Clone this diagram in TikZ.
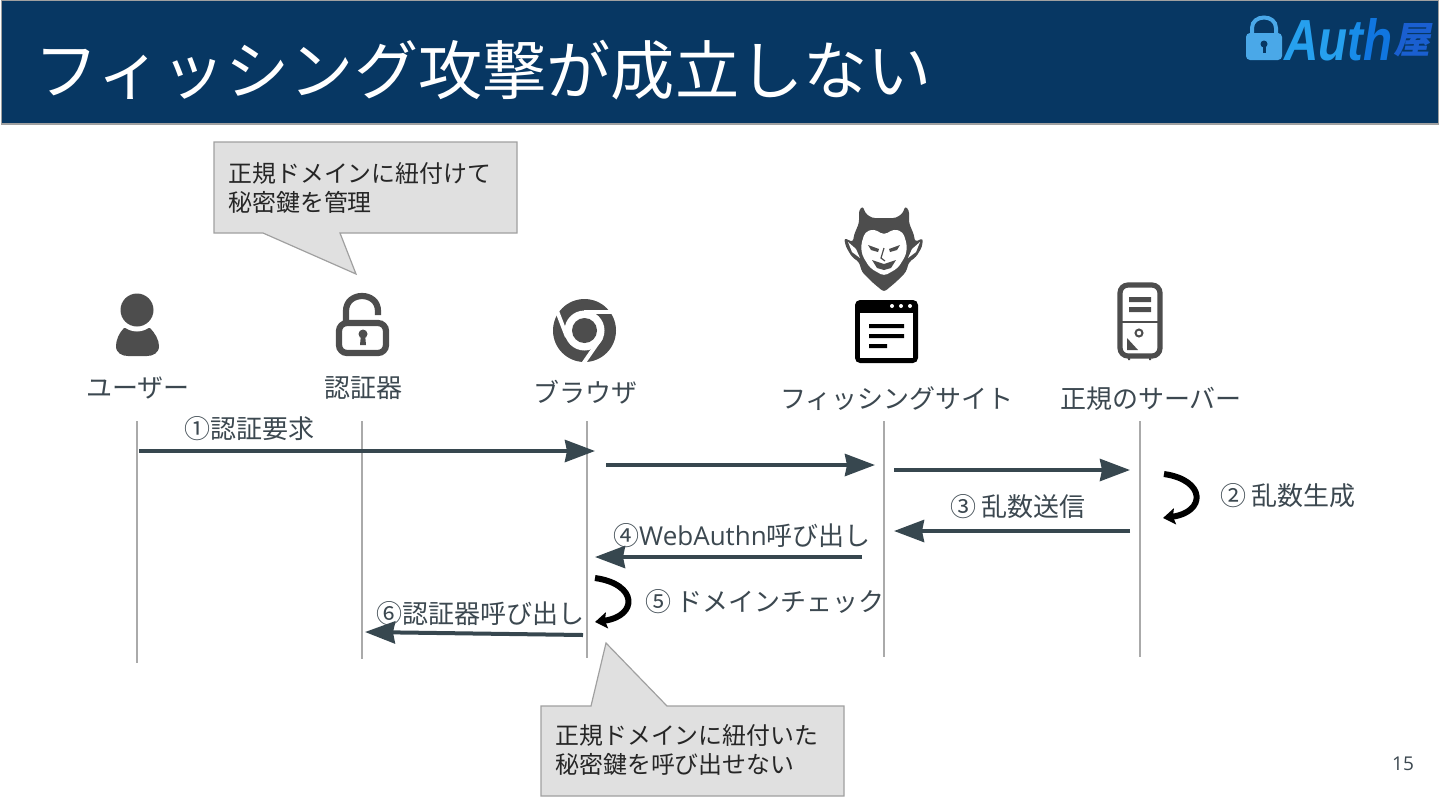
\documentclass[tikz,border=0pt]{standalone}
\usepackage{fontspec}
\setmainfont{Noto Sans CJK JP}
\newfontfamily\latinfont{Open Sans}
\newfontfamily\logofont{Liberation Sans}
\newfontfamily\logocjk[FakeSlant=0.2]{Noto Sans CJK JP}
\usetikzlibrary{arrows.meta,calc}
\definecolor{headblue}{RGB}{7,55,99}
\definecolor{slatetext}{RGB}{60,72,80}
\definecolor{arrowslate}{RGB}{55,71,79}
\definecolor{icongray}{RGB}{77,77,77}
\definecolor{lifegray}{RGB}{170,170,170}
\definecolor{notefill}{RGB}{224,224,224}
\definecolor{noteline}{RGB}{160,160,160}
\definecolor{logolock}{RGB}{74,168,232}
\begin{document}
\begin{tikzpicture}[x=0.5pt,y=-0.5pt,
    lifeline/.style={draw=lifegray,line width=0.8pt},
    msg/.style={draw=arrowslate,line width=2pt,-{Stealth[length=15pt,width=11pt,inset=1pt]}},
    selfloop/.style={draw=black,line width=3pt,-{Stealth[length=6pt,width=8pt,inset=1pt]}},
    lbl/.style={text=slatetext,inner sep=0pt,font=\fontsize{13}{15}\selectfont},
    notetxt/.style={text=black!85,inner sep=0pt,anchor=west,align=left,font=\fontsize{11.95}{14.5}\selectfont},
    notebox/.style={fill=notefill,draw=noteline,line width=0.6pt}]
    \useasboundingbox (0,0) rectangle (1440,810);
    % header
    \fill[headblue,draw=noteline,line width=0.6pt] (1.5,0.5) rectangle (1438.5,124);
    \node[anchor=west,inner sep=0pt,text=white,font=\fontsize{32.1}{36}\selectfont] (title) at (34,70) {フィッシング攻撃が成立しない};
    % logo
    \fill[logolock,rounded corners=2pt] (1246,33) rectangle (1282,60);
    \draw[logolock,line width=2pt] (1252,34) -- (1252,28) .. controls (1252,14) and (1276,14) .. (1276,28) -- (1276,34);
    \fill[headblue] (1264,44) circle (3.5);
    \fill[headblue] (1262.5,45) rectangle (1265.5,53);
    \node[anchor=west,inner sep=0pt,font=\logofont\bfseries\itshape\fontsize{29}{29}\selectfont] (logoauth) at (1284,40) {\scalebox{.82}[1]{\textcolor[RGB]{38,160,238}{Au}\textcolor[RGB]{24,140,232}{t}\textcolor[RGB]{16,118,224}{h}}};
    \node[anchor=west,inner sep=0pt,text={rgb,255:red,26;green,95;blue,208},font=\logocjk\bfseries\fontsize{18.5}{20}\selectfont] (logoya) at (1393,40) {屋};
    % callouts
    \path[notebox] (214,142) -- (517,142) -- (517,233) -- (340,233) -- (356,274) -- (263,233) -- (214,233) -- cycle;
    \node[notetxt] (notekey) at (228,188) {正規ドメインに紐付けて\\秘密鍵を管理};
    \path[notebox] (541,706) -- (591,706) -- (606,643) -- (667,706) -- (844,706) -- (844,796) -- (541,796) -- cycle;
    \node[notetxt] (notecall) at (555,750) {正規ドメインに紐付いた\\秘密鍵を呼び出せない};
    % user icon
    \fill[icongray] (116,346) .. controls (116,340) and (119,333) .. (124,328) -- (150,328) .. controls (155,333) and (159,340) .. (159,346) .. controls (159,353) and (153,356) .. (147,356) -- (128,356) .. controls (122,356) and (116,353) .. cycle;
    \fill[white] (137,311) circle (20.5);
    \fill[icongray] (137,310) circle (16.5);
    % lock icon
    \draw[icongray,line width=3.1pt,rounded corners=4pt] (339,323) rectangle (386,353);
    \draw[icongray,line width=3.1pt] (346,322) -- (346,311) .. controls (346,291) and (378,291) .. (378,311) -- (378,315);
    \fill[icongray] (363,334) circle (4.5);
    \fill[icongray] (361,334) -- (365,334) -- (366,345) -- (360,345) -- cycle;
    % browser icon
    \fill[icongray] (584.5,330.5) circle (31.5);
    \fill[white] (584.5,330.5) circle (20);
    \fill[icongray] (584.5,330.5) circle (12.5);
    \draw[white,line width=2pt] (584,312) -- (618,312);
    \draw[white,line width=2pt] (567,337) -- (557,311);
    \draw[white,line width=2pt] (601,338) -- (583,364);
    % site icon
    \fill[black,rounded corners=2.5pt] (855,300) rectangle (918,363);
    \fill[white] (860,313) rectangle (913,358);
    \fill[white] (892,306) circle (2) (901,306) circle (2) (910,306) circle (2);
    \fill[black] (869,324) rectangle (904,328) (869,334) rectangle (904,338) (869,344) rectangle (887,348);
    % devil icon
    \fill[icongray,rounded corners=1.5pt] (863,206) -- (865,213) -- (872,218) -- (896,218) -- (903,213) -- (905,206) -- (909,210) -- (909,223) -- (914,235) -- (915,242) -- (923,238) -- (922,247) -- (916,257) -- (909,262) -- (906,272) -- (896,282) -- (884,292) -- (872,282) -- (862,272) -- (859,262) -- (852,257) -- (846,247) -- (844,238) -- (853,242) -- (854,235) -- (859,223) -- (859,210) -- cycle;
    \fill[white,rounded corners=2pt] (884,235) -- (874,229) -- (865,232) -- (861,245) -- (862,255) -- (870,268) -- (884,276) -- (898,268) -- (906,255) -- (907,245) -- (903,232) -- (894,229) -- cycle;
    \fill[white] (848,242) -- (856,249) -- (860,258) -- (852,252) -- cycle (920,242) -- (912,249) -- (908,258) -- (916,252) -- cycle;
    \fill[icongray] (868,245) -- (879,249) -- (878,252) -- (871,250) -- cycle (900,245) -- (889,249) -- (890,252) -- (897,250) -- cycle;
    \fill[icongray] (872,260) -- (884,264) -- (896,260) -- (891,268) -- (884,270) -- (877,268) -- cycle;
    \draw[icongray,line width=0.6pt] (884,248) -- (881,258) -- (885,261);
    % server icon
    \draw[icongray,line width=2.6pt,rounded corners=4pt] (1120,285) rectangle (1160,356);
    \draw[icongray,line width=0.6pt] (1120,322) -- (1160,322);
    \fill[icongray] (1129,297) rectangle (1151,302) (1129,307) rectangle (1151,312);
    \draw[icongray,line width=1pt] (1139,333) circle (3.5);
    \fill[icongray] (1127,338) -- (1138,350) -- (1127,350) -- cycle;
    \fill[icongray] (1128,356) rectangle (1130,360) (1149,356) rectangle (1151,360);
    % actors
    \node[lbl] (user) at (138,388) {ユーザー};
    \node[lbl] (auth) at (363,388) {認証器};
    \node[lbl] (browser) at (585,392) {ブラウザ};
    \node[lbl] (site) at (897,399) {フィッシングサイト};
    \node[lbl] (server) at (1151,399) {正規のサーバー};
    % lifelines
    \coordinate (usertop) at (137,421); \coordinate (userend) at (137,663);
    \coordinate (authtop) at (362,421); \coordinate (authend) at (362,659);
    \coordinate (browsertop) at (587,421); \coordinate (browserend) at (587,658);
    \coordinate (sitetop) at (884,421); \coordinate (siteend) at (884,657);
    \coordinate (servertop) at (1140,421); \coordinate (serverend) at (1140,657);
    \path[lifeline] (usertop) -- (userend);
    \path[lifeline] (authtop) -- (authend);
    \path[lifeline] (browsertop) -- (browserend);
    \path[lifeline] (sitetop) -- (siteend);
    \path[lifeline] (servertop) -- (serverend);
    % messages
    \coordinate (m1a) at (139,451); \coordinate (m1b) at (595,451);
    \coordinate (m2a) at (606,465); \coordinate (m2b) at (875,465);
    \coordinate (m3a) at (894,470); \coordinate (m3b) at (1130,470);
    \coordinate (m4a) at (1130,531); \coordinate (m4b) at (894,531);
    \coordinate (m5a) at (862,557); \coordinate (m5b) at (595,557);
    \coordinate (m6a) at (583,635); \coordinate (m6b) at (365,632);
    \path[msg] (m1a) -- (m1b);
    \path[msg] (m2a) -- (m2b);
    \path[msg] (m3a) -- (m3b);
    \path[msg] (m4a) -- (m4b);
    \path[msg] (m5a) -- (m5b);
    \path[msg] (m6a) -- (m6b);
    \coordinate (loopa) at (1164,474); \coordinate (loopb) at (1163,518);
    \coordinate (loopc) at (595,578); \coordinate (loopd) at (595,622);
    \path[selfloop] (loopa) .. controls (1206,480) and (1206,512) .. (loopb);
    \path[selfloop] (loopc) .. controls (638,584) and (638,616) .. (loopd);
    % labels
    \node[lbl] (step1) at (249,429) {①認証要求};
    \node[lbl] (step2) at (1288,496) {② 乱数生成};
    \node[lbl] (step3) at (1018,507) {③ 乱数送信};
    \node[lbl] (step4) at (742,536) {④{\latinfont WebAuthn}呼び出し};
    \node[lbl] (step5) at (765,602) {⑤ ドメインチェック};
    \node[lbl] (step6) at (480,614) {⑥認証器呼び出し};
    \node[text=slatetext,inner sep=0pt,font=\latinfont\fontsize{9.5}{12}\selectfont] (pageno) at (1403,764) {15};
\end{tikzpicture}
\end{document}
